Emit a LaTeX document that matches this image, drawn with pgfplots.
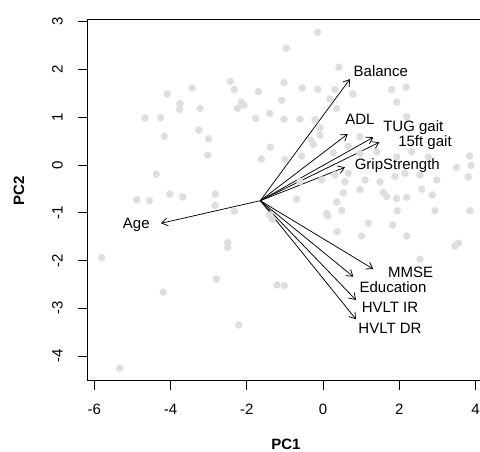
\documentclass[border=0pt]{standalone}
\usepackage{fontspec}
\setmainfont{Liberation Sans}
\usepackage{pgfplots}
\pgfplotsset{compat=1.18}
\usetikzlibrary{arrows.meta}
\definecolor{dotgray}{HTML}{DEDEDE}
\newcommand\rf{\fontsize{15bp}{18bp}\selectfont}

\pgfplotstableread{
x y
-0.960 2.446
-2.433 1.748
-2.328 1.581
-3.429 1.612
-4.088 1.487
-1.699 1.539
-1.025 1.727
-1.085 1.355
-3.752 1.283
-3.765 1.162
-3.222 1.183
-2.145 1.319
-2.074 1.250
-2.244 1.187
-4.667 0.984
-4.258 0.990
-1.767 0.974
-1.397 1.078
-1.025 0.957
-4.164 0.601
-3.254 0.729
-2.999 0.549
-3.023 0.205
-1.384 0.373
-1.615 0.126
-4.373 -0.195
-4.019 -0.611
-3.678 -0.670
-2.829 -0.611
-4.885 -0.727
-4.552 -0.750
-2.834 -0.844
-2.328 -0.969
-1.400 -1.047
-1.340 -1.137
-2.501 -1.619
-2.501 -1.723
-5.805 -1.941
-2.800 -2.387
-4.190 -2.665
-1.209 -2.513
-1.017 -2.527
-2.213 -3.350
-5.333 -4.257
-0.142 2.778
0.412 2.048
-0.545 1.612
-0.142 1.587
0.312 1.577
0.784 1.487
1.799 1.581
2.181 1.629
1.930 1.319
0.181 1.382
0.357 1.183
-0.606 0.959
-0.212 0.946
2.192 1.009
-0.081 0.781
-0.081 0.628
-0.317 0.523
-0.257 0.429
-0.561 0.188
-0.999 0.119
0.267 0.251
0.661 0.387
0.967 0.241
0.967 0.586
1.405 0.278
1.930 0.168
2.323 0.278
2.758 0.168
3.844 0.188
3.878 -0.010
3.498 -0.052
3.807 -0.251
2.978 -0.314
2.541 -0.209
2.147 -0.174
1.885 -0.245
1.492 -0.356
1.099 -0.314
0.661 -0.174
0.574 -0.350
0.312 -0.209
-0.037 -0.314
-0.606 -0.350
0.967 -0.513
1.578 -0.576
2.585 -0.503
2.861 -0.628
2.192 -0.676
1.930 -0.701
1.668 -0.660
0.530 -0.580
0.357 -0.775
-0.692 -0.718
0.488 -0.953
0.094 -1.011
0.121 -1.068
1.945 -0.957
2.934 -0.957
3.852 -0.957
1.185 -1.221
1.825 -1.256
0.372 -1.397
1.012 -1.487
2.192 -1.487
3.458 -1.696
3.545 -1.639
2.541 -1.974
}\scores

\begin{document}
\begin{tikzpicture}
\begin{axis}[
  scale only axis,
  width=396.9bp,
  height=361.5bp,
  xmin=-6.18, xmax=4.227,
  ymin=-4.52, ymax=3.05,
  xtick={-6,-4,-2,0,2,4},
  ytick={-4,-3,-2,-1,0,1,2,3},
  tick align=outside,
  tick pos=left,
  major tick length=9bp,
  axis line style={black, line width=1.1bp},
  tick style={black, line width=0.8bp},
  /pgf/number format/assume math mode=true,
  ticklabel style={font=\rf},
  xticklabel style={anchor=center, yshift=-19bp},
  yticklabel style={anchor=center, xshift=-21bp, rotate=90},
  xlabel={\bfseries PC1},
  ylabel={\bfseries PC2},
  label style={font=\rf},
  xlabel style={at={(axis description cs:0.5,-0.1751)}, anchor=center},
  ylabel style={at={(axis description cs:-0.1721,0.525)}, anchor=center},
]
\addplot[only marks, mark=*, mark size=3.5bp, color=dotgray] table {\scores};

\addplot[black, line width=0.75bp, -{Straight Barb[length=6bp,width=8bp]}] coordinates {(-1.647,-0.747) (0.705,1.80)};
\addplot[black, line width=0.75bp, -{Straight Barb[length=6bp,width=8bp]}] coordinates {(-1.647,-0.747) (0.645,0.649)};
\addplot[black, line width=0.75bp, -{Straight Barb[length=6bp,width=8bp]}] coordinates {(-1.647,-0.747) (1.316,0.58)};
\addplot[black, line width=0.75bp, -{Straight Barb[length=6bp,width=8bp]}] coordinates {(-1.647,-0.747) (1.474,0.475)};
\addplot[black, line width=0.75bp, -{Straight Barb[length=6bp,width=8bp]}] coordinates {(-1.647,-0.747) (0.574,-0.048)};
\addplot[black, line width=0.75bp, -{Straight Barb[length=6bp,width=8bp]}] coordinates {(-1.647,-0.747) (1.316,-2.178)};
\addplot[black, line width=0.75bp, -{Straight Barb[length=6bp,width=8bp]}] coordinates {(-1.647,-0.747) (0.792,-2.339)};
\addplot[black, line width=0.75bp, -{Straight Barb[length=6bp,width=8bp]}] coordinates {(-1.647,-0.747) (0.863,-2.827)};
\addplot[black, line width=0.75bp, -{Straight Barb[length=6bp,width=8bp]}] coordinates {(-1.647,-0.747) (0.863,-3.231)};
\addplot[black, line width=0.75bp, -{Straight Barb[length=6bp,width=8bp]}] coordinates {(-1.647,-0.747) (-4.25,-1.221)};

\node[font=\rf, inner sep=0pt] at (axis cs:1.513,1.962) {Balance};
\node[font=\rf, inner sep=0pt] at (axis cs:0.967,0.949) {ADL};
\node[font=\rf, inner sep=0pt] at (axis cs:2.365,0.789) {TUG gait};
\node[font=\rf, inner sep=0pt] at (axis cs:2.672,0.475) {15ft gait};
\node[font=\rf, inner sep=0pt] at (axis cs:1.946,-0.014) {GripStrength};
\node[font=\rf, inner sep=0pt] at (axis cs:2.296,-2.255) {MMSE};
\node[font=\rf, inner sep=0pt] at (axis cs:1.833,-2.554) {Education};
\node[font=\rf, inner sep=0pt] at (axis cs:1.754,-2.987) {HVLT IR};
\node[font=\rf, inner sep=0pt] at (axis cs:1.754,-3.420) {HVLT DR};
\node[font=\rf, inner sep=0pt] at (axis cs:-4.898,-1.256) {Age};

\coordinate (bbsw) at (axis cs:-8.471,-6.009);
\coordinate (bbne) at (axis cs:4.114,3.455);
\end{axis}
\pgfresetboundingbox
\useasboundingbox (bbsw) rectangle (bbne);
\end{tikzpicture}
\end{document}
